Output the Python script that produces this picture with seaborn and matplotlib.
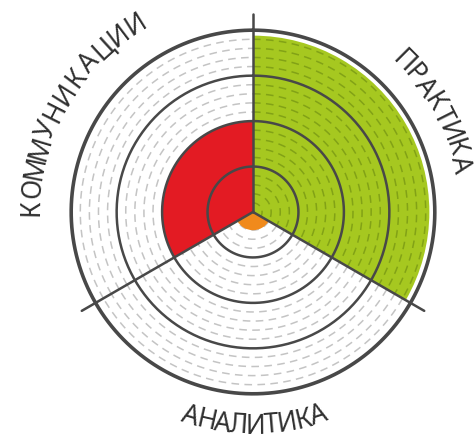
import numpy as np
import matplotlib.pyplot as plt
import seaborn as sns

sns.set_theme(style="white")
plt.rcParams['font.family'] = ['Noto Sans', 'DejaVu Sans']

# данные
categories = ['ПРАКТИКА', 'АНАЛИТИКА', 'КОММУНИКАЦИИ']
values = [3.88, 0.4, 2.0]
colors = ['#a6c820', '#f08a1c', '#e31b23']
levels = [1, 2, 3, 4]

fig = plt.figure(figsize=(4.74, 4.41), dpi=100)
ax = fig.add_axes([0.1118, 0.0658, 0.8439, 0.907], projection='polar')
ax.set_theta_zero_location('N')
ax.set_theta_direction(-1)
ax.set_ylim(0, 4.4)
ax.axis('off')

width = np.radians(120)
theta = np.radians([60, 180, 300])
ax.bar(theta, values, width=width, color=colors, edgecolor='none', zorder=1)

# пунктирные кольца
dash_r = [r for r in np.arange(0.2, 4.0, 0.2) if abs(r - round(r)) > 0.05]
dash_col = ['#82a216', '#c4c4c4', '#c4c4c4']
for i, c in enumerate(dash_col):
    t = np.linspace(theta[i] - width / 2, theta[i] + width / 2, 300)
    z = 1.5 if i == 0 else 0.5
    for r in dash_r:
        ax.plot(t, np.full_like(t, r), color=c, lw=1.1, dashes=(5, 3.5), zorder=z)

# сплошные кольца
t = np.linspace(0, 2 * np.pi, 400)
for lv in levels:
    ax.plot(t, np.full_like(t, lv), color='#484848',
            lw=2.6 if lv == levels[-1] else 1.8, zorder=3)

# лучи
for a in [0, 120, 240]:
    ax.plot([np.radians(a)] * 2, [0, 4.35], color='#484848', lw=1.8, zorder=3)


def arc_text(ax, text, r, a0, a1, bottom=False):
    n = len(text)
    for i, ch in enumerate(text):
        ang = a0 + (a1 - a0) * i / (n - 1)
        rot = 180 - ang if bottom else -ang
        ax.text(np.radians(ang), r, ch, rotation=rot, ha='center', va='center',
                rotation_mode='anchor', fontsize=19, fontweight='medium',
                color='#303030', zorder=4)


arc_text(ax, categories[0], 4.66, 45, 77)
arc_text(ax, categories[1], 4.72, 197, 162, bottom=True)
arc_text(ax, categories[2], 4.86, 271, 328)

fig.savefig('out.png', dpi=100, facecolor='white')
